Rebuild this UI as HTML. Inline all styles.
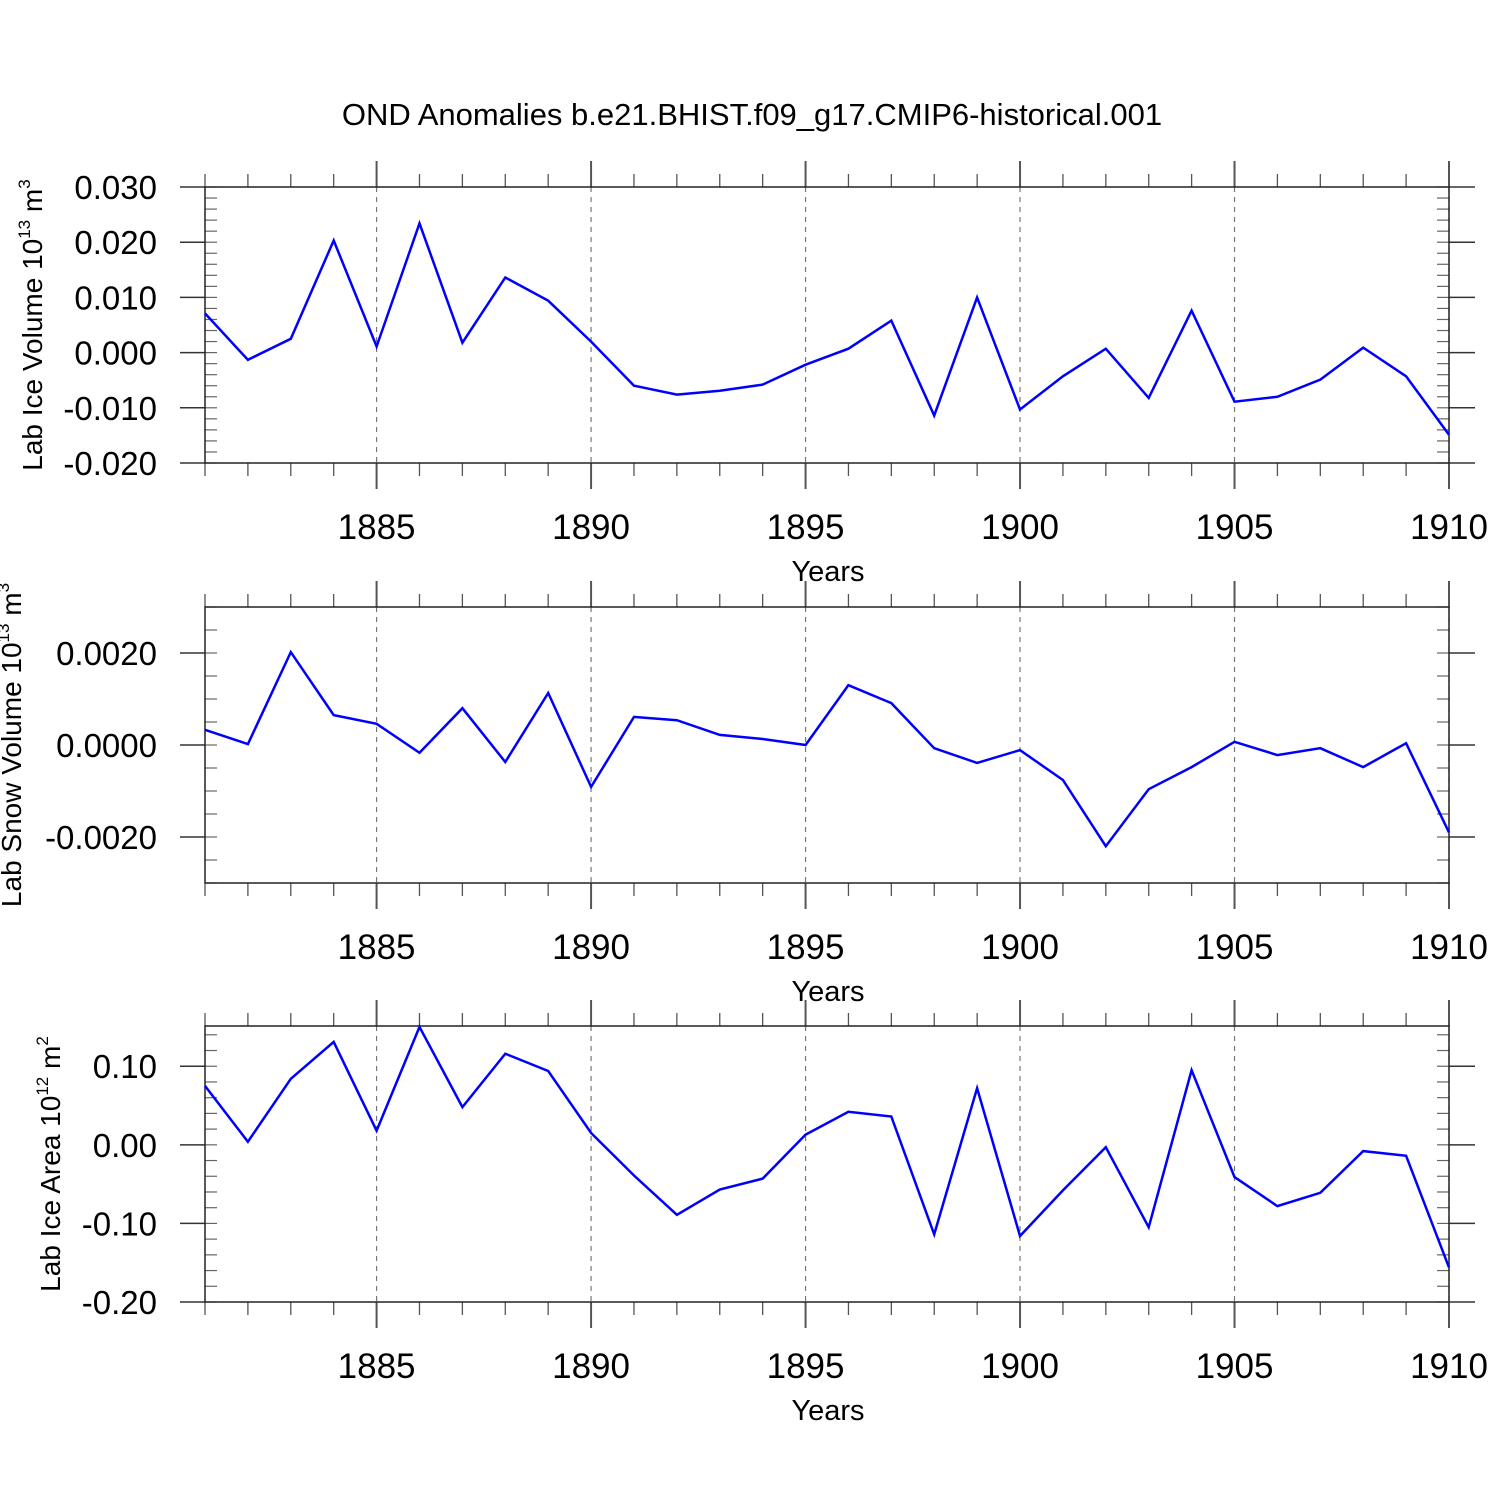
<!DOCTYPE html>
<html><head><meta charset="utf-8"><style>
html,body{margin:0;padding:0;background:#fff}
svg{display:block}
text{font-family:"Liberation Sans",sans-serif;fill:#000}
</style></head><body>
<svg id="chart" width="1500" height="1500" viewBox="0 0 1500 1500" xmlns="http://www.w3.org/2000/svg">
<text x="752" y="125" font-size="31" text-anchor="middle">OND Anomalies b.e21.BHIST.f09_g17.CMIP6-historical.001</text>
</svg>
<script>
const years = [1881,1882,1883,1884,1885,1886,1887,1888,1889,1890,1891,1892,1893,1894,1895,1896,1897,1898,1899,1900,1901,1902,1903,1904,1905,1906,1907,1908,1909,1910];
const xTicks = [1885,1890,1895,1900,1905,1910];
const iceVolume = [0.0071,-0.0013,0.0025,0.0203,0.0011,0.0234,0.0018,0.0136,0.0094,0.0020,-0.0060,-0.0076,-0.0069,-0.0058,-0.0022,0.0007,0.0058,-0.0114,0.0100,-0.0103,-0.0043,0.0007,-0.0082,0.0076,-0.0089,-0.0080,-0.0049,0.0009,-0.0043,-0.0149];
const snowVolume = [0.00033,0.00002,0.00202,0.00065,0.00046,-0.00017,0.0008,-0.00037,0.00113,-0.00091,0.00061,0.00054,0.00022,0.00013,0.0,0.0013,0.00091,-0.00007,-0.00039,-0.00011,-0.00076,-0.0022,-0.00096,-0.00048,0.00007,-0.00022,-0.00007,-0.00048,0.00004,-0.0019];
const iceArea = [0.075,0.004,0.084,0.131,0.018,0.150,0.048,0.116,0.094,0.015,-0.039,-0.089,-0.057,-0.043,0.013,0.042,0.036,-0.114,0.072,-0.116,-0.058,-0.003,-0.105,0.095,-0.041,-0.078,-0.061,-0.008,-0.014,-0.156];
const iceVolTicks = [0.03,0.02,0.01,0,-0.01,-0.02];
const iceVolLabels = ["0.030","0.020","0.010","0.000","-0.010","-0.020"];
const snowTicks = [0.002,0,-0.002];
const snowLabels = ["0.0020","0.0000","-0.0020"];
const areaTicks = [0.1,0,-0.1,-0.2];
const areaLabels = ["0.10","0.00","-0.10","-0.20"];

const NS="http://www.w3.org/2000/svg";
const svg=document.getElementById('chart');
const X0=205,X1=1449;
const xs=v=>X0+(v-1881)/(1910-1881)*(X1-X0);
function el(tag,attrs,parent){const e=document.createElementNS(NS,tag);for(const k in attrs)e.setAttribute(k,attrs[k]);(parent||svg).appendChild(e);return e;}

function panel(opt){
  const g=el('g',{});
  
  
  const T=opt.top,B=opt.top+276;
  const ys=v=>B-(v-opt.ymin)/(opt.ymax-opt.ymin)*(B-T);
  xTicks.forEach(t=>{const l=el('line',{x1:xs(t),x2:xs(t),y1:T,y2:B,stroke:'#777','stroke-width':1.2,'stroke-dasharray':'5,5'},g);
    
    });
  years.forEach(y=>{const major=xTicks.includes(y);const len=major?26:13;
    el('line',{x1:xs(y),x2:xs(y),y1:T-len,y2:T,stroke:'#555','stroke-width':major?2:1.3},g);
    el('line',{x1:xs(y),x2:xs(y),y1:B,y2:B+len,stroke:'#555','stroke-width':major?2:1.3},g);});
  for(let v=opt.ymin;v<=opt.ymax+1e-9;v+=opt.minor){const y=ys(v);
    el('line',{x1:X0,x2:X0+12,y1:y,y2:y,stroke:'#666','stroke-width':1.2},g);
    el('line',{x1:X1-12,x2:X1,y1:y,y2:y,stroke:'#666','stroke-width':1.2},g);}
  opt.ticks.forEach((v,i)=>{const y=ys(v);
    el('line',{x1:180,x2:X0,y1:y,y2:y,stroke:'#333','stroke-width':1.5},g);
    el('line',{x1:X1,x2:1475,y1:y,y2:y,stroke:'#333','stroke-width':1.5},g);
    const t=el('text',{x:157,y:y+12,'font-size':33,'text-anchor':'end'},g);t.textContent=opt.labels[i];
    
    });
  const f=el('rect',{x:X0,y:T,width:X1-X0,height:B-T,fill:'none',stroke:'#222','stroke-width':1.5},g);
  
  
  xTicks.forEach(t=>{const tx=el('text',{x:xs(t),y:B+76,'font-size':35,'text-anchor':'middle'},g);tx.textContent=t;
    
    });
  const xt=el('text',{x:828,y:B+118,'font-size':29,'text-anchor':'middle'},g);xt.textContent='Years';
  
  
  const yt=el('text',{transform:`translate(${opt.tx},${T+138}) rotate(-90)`,'font-size':28,'text-anchor':'middle'},g);
  
  
  yt.innerHTML=`${opt.title} 10<tspan dy="-12" font-size="17">${opt.e}</tspan><tspan dy="12"> m</tspan><tspan dy="-12" font-size="17">${opt.u}</tspan>`;
  const pts=years.map((y,i)=>xs(y).toFixed(1)+','+ys(opt.data[i]).toFixed(1)).join(' ');
  const pl=el('polyline',{points:pts,fill:'none',stroke:'#0000ff','stroke-width':2.5,'stroke-linejoin':'miter'},g);
  
  
}
panel({name:'ice-volume-panel',top:187,ymin:-0.02,ymax:0.03,minor:0.002,ticks:iceVolTicks,labels:iceVolLabels,data:iceVolume,title:'Lab Ice Volume',e:'13',u:'3',tx:42});
panel({name:'snow-volume-panel',top:607,ymin:-0.003,ymax:0.003,minor:0.0005,ticks:snowTicks,labels:snowLabels,data:snowVolume,title:'Lab Snow Volume',e:'13',u:'3',tx:21});
panel({name:'ice-area-panel',top:1026,ymin:-0.2,ymax:0.1512,minor:0.02,ticks:areaTicks,labels:areaLabels,data:iceArea,title:'Lab Ice Area',e:'12',u:'2',tx:60});
</script>
</body></html>
